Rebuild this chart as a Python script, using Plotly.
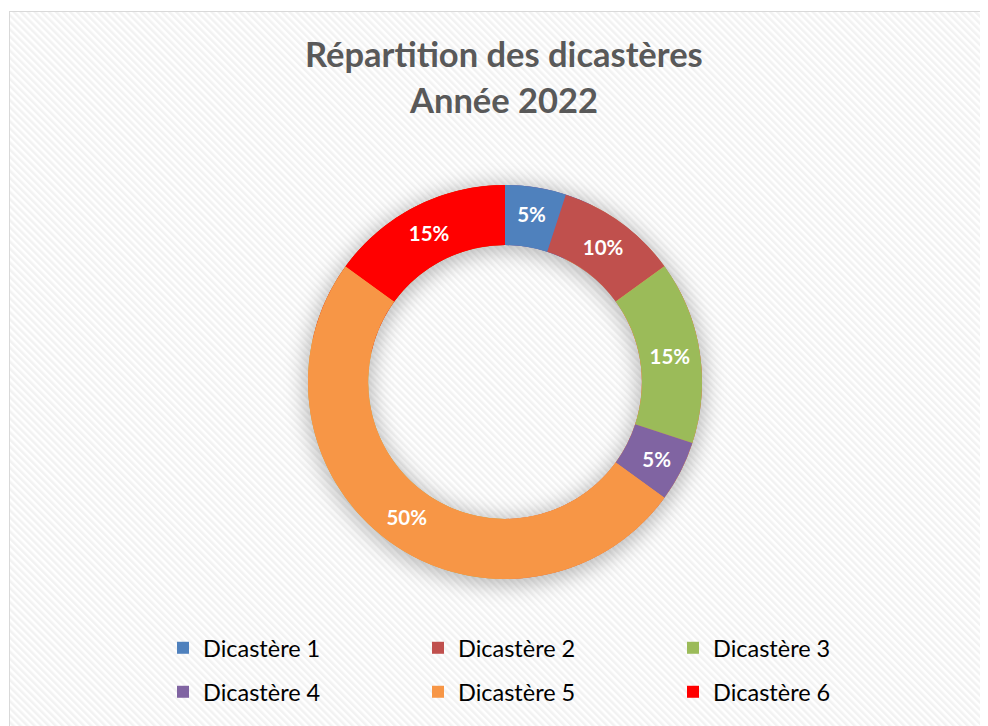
import base64
import plotly.graph_objects as go

# ---- data ----
labels = ["Dicastère 1", "Dicastère 2", "Dicastère 3", "Dicastère 4", "Dicastère 5", "Dicastère 6"]
values = [5, 10, 15, 5, 50, 15]
colors = ["#4F81BD", "#C0504D", "#9BBB59", "#8064A2", "#F79646", "#FF0000"]
title_lines = ["Répartition des dicastères", "Année 2022"]

W, H = 988, 726
OFF = 8  # page body margin: figure is drawn 8px in from the window corner
cx, cy, R = 505 - OFF, 382 - OFF, 197
HOLE = 0.695

# ---- background (hatched chart area with border + soft shadow around the ring) ----
svg = f'''<svg xmlns="http://www.w3.org/2000/svg" width="{W}" height="{H}" viewBox="0 0 {W} {H}">
<defs>
<pattern id="p" width="5" height="5" patternUnits="userSpaceOnUse" patternTransform="rotate(-45)">
<rect width="5" height="5" fill="#ffffff"/><rect width="2.5" height="5" fill="#f2f2f2"/>
</pattern>
<filter id="b" x="-50%" y="-50%" width="200%" height="200%"><feGaussianBlur stdDeviation="10"/></filter>
</defs>
<rect x="0" y="0" width="{W}" height="{H}" fill="#ffffff"/>
<rect x="{9.5 - OFF}" y="{11.5 - OFF}" width="{W}" height="{H}" fill="url(#p)" stroke="#d9d9d9" stroke-width="1"/>
<circle cx="{cx}" cy="{cy + 3}" r="{R * (1 + HOLE) / 2}" fill="none" stroke="#000" stroke-opacity="0.25"
 stroke-width="{R * (1 - HOLE) + 8}" filter="url(#b)"/>
</svg>'''
bg = "data:image/svg+xml;base64," + base64.b64encode(svg.encode("utf-8")).decode()

dom_x = [(cx - R) / W, (cx + R) / W]
dom_y = [(H - cy - R) / H, (H - cy + R) / H]

fig = go.Figure()

# legend proxies (drawn underneath the main ring, same geometry) - one per legend row
for rows, lg in ((slice(0, 3), "legend"), (slice(3, 6), "legend2")):
    fig.add_trace(go.Pie(
        labels=labels[rows], values=values[rows], marker=dict(colors=colors[rows]),
        hole=HOLE, domain=dict(x=dom_x, y=dom_y), sort=False, direction="clockwise",
        textinfo="none", hoverinfo="skip", legend=lg, showlegend=True,
    ))

# main donut
fig.add_trace(go.Pie(
    labels=labels, values=values, marker=dict(colors=colors, line=dict(width=0)),
    hole=HOLE, domain=dict(x=dom_x, y=dom_y), sort=False, direction="clockwise",
    rotation=0, textinfo="percent", texttemplate="%{percent:.0%}",
    textposition="inside", insidetextorientation="horizontal",
    textfont=dict(family="Lato", size=20.5, color="#ffffff", weight="bold"),
    showlegend=False,
))

legend_common = dict(
    orientation="h", xanchor="left", yanchor="middle",
    entrywidth=210, entrywidthmode="pixels",
    font=dict(family="Lato", size=23.5, color="#000000"),
    bgcolor="rgba(0,0,0,0)", traceorder="normal",
)

leg_x = (177 - 14 - OFF) / W
title_font = dict(family="Lato", size=34.5, color="#595959", weight="bold")

fig.update_layout(
    width=W, height=H, autosize=False,
    margin=dict(l=0, r=0, t=0, b=0),
    paper_bgcolor="#ffffff", plot_bgcolor="rgba(0,0,0,0)",
    uniformtext=dict(minsize=20.5, mode="show"),
    legend=dict(x=leg_x, y=1 - (648 - OFF) / H, **legend_common),
    legend2=dict(x=leg_x, y=1 - (692 - OFF) / H, **legend_common),
    images=[dict(source=bg, xref="paper", yref="paper", x=0, y=1, sizex=1, sizey=1,
                 sizing="stretch", xanchor="left", yanchor="top", layer="below")],
    annotations=[
        dict(text=title_lines[0], x=(503.5 - OFF) / W, y=1 - 46 / H, xref="paper", yref="paper",
             showarrow=False, xanchor="center", yanchor="middle", font=title_font),
        dict(text=title_lines[1], x=(503.5 - OFF) / W, y=1 - 92 / H, xref="paper", yref="paper",
             showarrow=False, xanchor="center", yanchor="middle", font=title_font),
    ],
)

fig.write_html("out.html")
